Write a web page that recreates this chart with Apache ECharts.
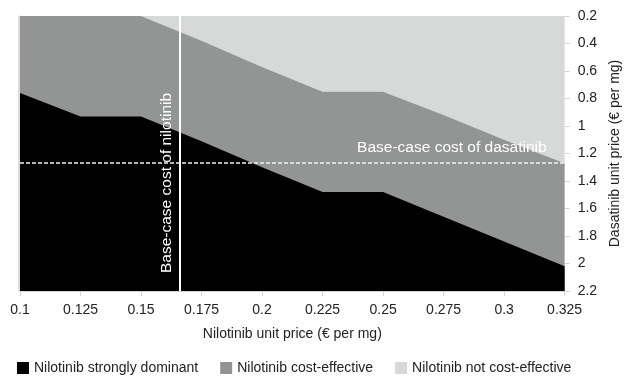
<!DOCTYPE html>
<html>
<head>
<meta charset="utf-8">
<title>Nilotinib vs dasatinib price threshold</title>
<script src="https://cdn.jsdelivr.net/npm/echarts@6/dist/echarts.min.js"></script>
<style>
  html, body { margin: 0; padding: 0; background: #fff; }
  #chart { width: 630px; height: 376px; }
</style>
</head>
<body>
<div id="chart"></div>
<script>
// Nilotinib unit price grid (€ per mg)
const nilotinibPrice = [0.1, 0.125, 0.15, 0.175, 0.2, 0.225, 0.25, 0.275, 0.3, 0.325];
// Dasatinib price above which nilotinib is strongly dominant (lower edge of the grey band)
const dominantLimit = [0.76, 0.93, 0.93, 1.11, 1.30, 1.48, 1.48, 1.66, 1.84, 2.02];
// Dasatinib price above which nilotinib is cost-effective (upper edge of the grey band)
const costEffectiveLimit = [0.2, 0.2, 0.2, 0.38, 0.57, 0.75, 0.75, 0.92, 1.10, 1.27];

// Base-case unit prices
const baseNilotinib = 0.166;
const baseDasatinib = 1.27;

// Axis ranges and tick spacing
const xRange = [0.1, 0.325];
const xStep = 0.025;
const yRange = [0.2, 2.2];
const yStep = 0.2;

const regionNames = ['Nilotinib strongly dominant', 'Nilotinib cost-effective', 'Nilotinib not cost-effective'];
const regionColors = ['#000000', '#929594', '#d7d8d8'];

const FONT = "'Liberation Sans', Arial, Helvetica, sans-serif";
const pairs = (ys) => nilotinibPrice.map((x, i) => [x, ys[i]]);
const fmt = (v, d) => String(parseFloat(v.toFixed(d)));

const chart = echarts.init(document.getElementById('chart'), null, { renderer: 'canvas' });

const areaSeries = (name, ys, color, origin, z) => ({
  name: name,
  type: 'line',
  data: pairs(ys),
  yAxisIndex: 0,
  showSymbol: false,
  symbol: 'none',
  silent: true,
  animation: false,
  z: z,
  itemStyle: { color: color },
  lineStyle: { width: 0, color: color },
  areaStyle: { color: color, opacity: 1, origin: origin }
});

const option = {
  backgroundColor: '#ffffff',
  animation: false,
  textStyle: { fontFamily: FONT },
  grid: { left: 20, right: 56, top: 16, bottom: 85 },
  legend: {
    data: [
      { name: regionNames[0], icon: 'rect' },
      { name: regionNames[1], icon: 'rect' },
      { name: regionNames[2], icon: 'rect' }
    ],
    left: 12,
    top: 356,
    itemWidth: 12,
    itemHeight: 12,
    itemGap: 22,
    selectedMode: false,
    textStyle: { fontSize: 14, color: '#222', fontFamily: FONT }
  },
  xAxis: {
    type: 'value',
    min: xRange[0],
    max: xRange[1],
    interval: xStep,
    name: 'Nilotinib unit price (€ per mg)',
    nameLocation: 'middle',
    nameGap: 36,
    nameTextStyle: { fontSize: 14, color: '#222', fontFamily: FONT },
    axisLine: { show: true, lineStyle: { color: '#d4d4d4', width: 1 } },
    axisTick: { show: true, length: 5, lineStyle: { color: '#d4d4d4' } },
    axisLabel: {
      margin: 12, fontSize: 14, color: '#222', fontFamily: FONT,
      formatter: (v) => fmt(v, 3)
    },
    splitLine: { show: false }
  },
  yAxis: [
    {
      type: 'value',
      position: 'right',
      inverse: true,
      min: yRange[0],
      max: yRange[1],
      interval: yStep,
      name: 'Dasatinib unit price (€ per mg)',
      nameLocation: 'middle',
      nameGap: 42,
      nameRotate: 90,
      nameTextStyle: { fontSize: 14, color: '#222', fontFamily: FONT },
      axisLine: { show: false },
      axisTick: { show: true, length: 5, lineStyle: { color: '#d4d4d4' } },
      axisLabel: {
        margin: 13, fontSize: 14, color: '#222', fontFamily: FONT,
        formatter: (v) => fmt(v, 1)
      },
      splitLine: { show: false }
    },
    {
      type: 'value',
      position: 'left',
      inverse: true,
      min: yRange[0],
      max: yRange[1],
      interval: yStep,
      offset: 1,
      z: 10,
      axisLine: { show: true, lineStyle: { color: '#d0d0d0', width: 1.5 } },
      axisTick: { show: false },
      axisLabel: { show: false },
      splitLine: { show: false }
    }
  ],
  series: [
    areaSeries(regionNames[2], costEffectiveLimit, regionColors[2], 'start', 1),
    areaSeries(regionNames[1], costEffectiveLimit, regionColors[1], 'end', 2),
    Object.assign(areaSeries(regionNames[0], dominantLimit, regionColors[0], 'end', 3), {
      markLine: {
        silent: true,
        symbol: 'none',
        animation: false,
        z: 10,
        data: [
          [
            {
              coord: [baseNilotinib, yRange[1]],
              lineStyle: { color: '#ffffff', width: 2, type: 'solid' },
              label: {
                show: true,
                position: 'insideStartTop',
                distance: [18, 5],
                formatter: 'Base-case cost of nilotinib',
                color: '#ffffff',
                fontSize: 15.5,
                fontFamily: FONT
              }
            },
            { coord: [baseNilotinib, yRange[0]] }
          ],
          [
            {
              coord: [xRange[0], baseDasatinib],
              lineStyle: { color: '#f2f2f2', width: 1.6, type: [4, 2] },
              label: {
                show: true,
                position: 'insideEndTop',
                distance: [18, 7],
                formatter: 'Base-case cost of dasatinib',
                color: '#ffffff',
                fontSize: 15.5,
                fontFamily: FONT
              }
            },
            { coord: [xRange[1], baseDasatinib] }
          ]
        ]
      }
    })
  ]
};

chart.setOption(option);
</script>
</body>
</html>
